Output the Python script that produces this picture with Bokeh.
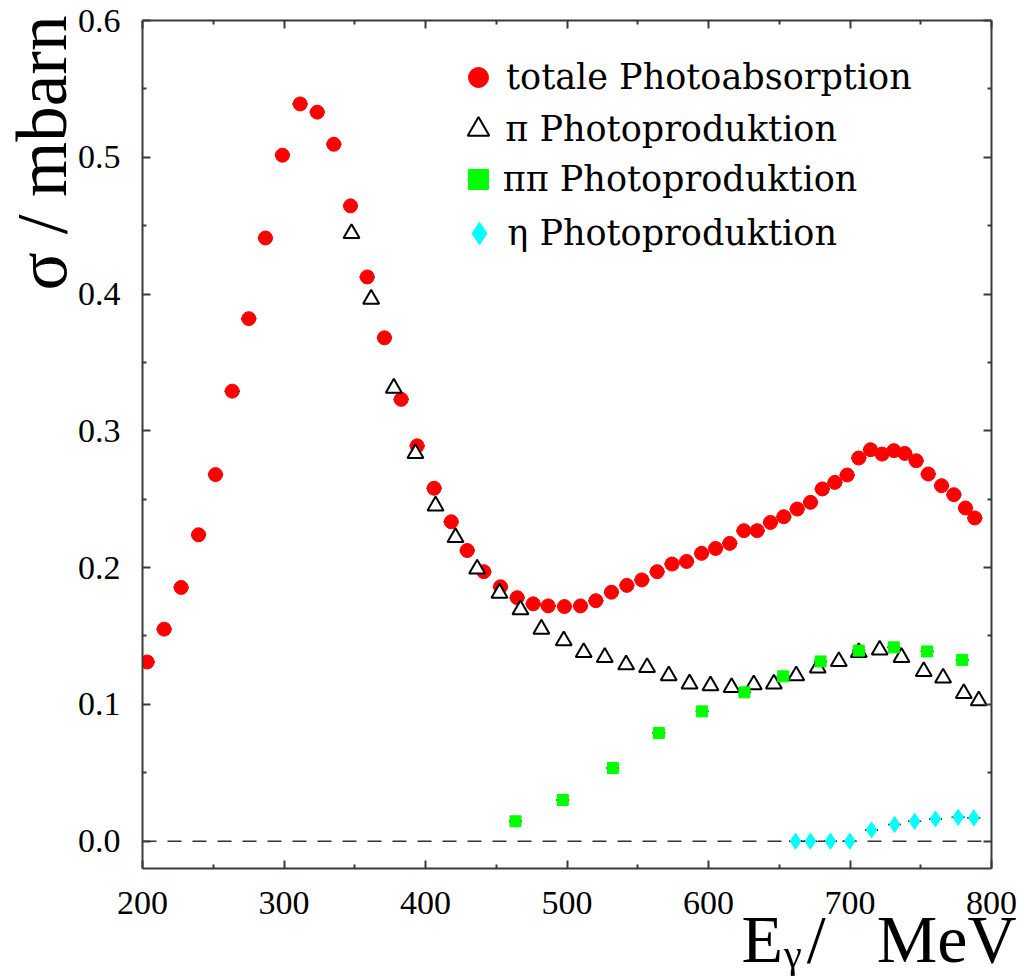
from bokeh.plotting import figure
from bokeh.models import (Range1d, LinearAxis, FixedTicker, PrintfTickFormatter,
                          CustomJSTickFormatter, Span, Title, Legend, LegendItem)
from bokeh.embed import file_html
from bokeh.resources import INLINE

# ---------------- data ----------------
tot_E = [203.3, 215.3, 227.3, 239.6, 251.6, 263.4, 275.1, 286.9, 298.9, 311.4,
         323.5, 335.2, 347.0, 358.8, 371.0, 382.8, 394.1, 406.1, 418.2, 429.5,
         441.2, 453.0, 464.8, 476.1, 486.7, 498.2, 509.5, 520.4, 531.4, 542.3,
         552.9, 563.7, 574.2, 584.5, 595.1, 605.0, 615.0, 625.0, 634.4, 643.8,
         653.2, 662.7, 672.1, 680.4, 689.3, 698.0, 706.2, 714.5, 722.7, 731.0,
         738.7, 746.8, 755.3, 764.7, 773.4, 781.6, 788.2]
tot_sig = [0.131, 0.155, 0.1855, 0.224, 0.268, 0.329, 0.382, 0.441, 0.5015, 0.539,
           0.533, 0.5095, 0.4645, 0.4125, 0.368, 0.323, 0.289, 0.258, 0.2335, 0.2125,
           0.197, 0.186, 0.178, 0.1735, 0.172, 0.1715, 0.172, 0.1758, 0.182, 0.187,
           0.191, 0.197, 0.2026, 0.2045, 0.2104, 0.214, 0.2177, 0.227, 0.227, 0.233,
           0.2372, 0.2428, 0.2477, 0.2575, 0.2623, 0.2677, 0.2801, 0.2862, 0.283, 0.2855,
           0.2835, 0.2781, 0.2684, 0.2599, 0.2533, 0.2436, 0.2363]

pi_E = [347.7, 361.6, 377.6, 392.9, 407.1, 421.2, 436.5, 452.3, 467.1, 481.9,
        497.7, 511.8, 526.7, 541.8, 556.6, 571.9, 586.6, 601.4, 616.3, 632.0,
        646.2, 662.0, 677.2, 692.1, 706.2, 721.0, 736.4, 752.1, 765.8, 780.4, 791.0]
pi_sig = [0.4443, 0.3963, 0.3313, 0.2835, 0.2452, 0.2221, 0.199, 0.1814, 0.1692, 0.1551,
          0.1466, 0.138, 0.1344, 0.129, 0.127, 0.121, 0.115, 0.1137, 0.1124, 0.1144,
          0.1149, 0.121, 0.1266, 0.1314, 0.138, 0.1398, 0.1344, 0.1241, 0.1193, 0.108, 0.1027]

pipi_E = [463.6, 497.0, 532.4, 564.9, 595.5, 625.4, 652.8, 679.2, 706.2, 730.9, 754.5, 779.3]
pipi_sig = [0.0145, 0.0301, 0.0535, 0.0791, 0.0949, 0.1088, 0.1205, 0.1314, 0.1393,
            0.1417, 0.1387, 0.1325]

eta_E = [661.5, 672.0, 686.2, 699.9, 715.2, 731.5, 745.7, 760.4, 776.4, 787.5]
eta_sig = [0.0, 0.0, 0.0, 0.0, 0.0082, 0.0121, 0.0145, 0.0162, 0.0174, 0.017]

x_major = [200, 300, 400, 500, 600, 700, 800]
x_minor = [250, 350, 450, 550, 650, 750]
y_major = [0.0, 0.1, 0.2, 0.3, 0.4, 0.5, 0.6]
y_minor = [0.05, 0.15, 0.25, 0.35, 0.45, 0.55]

legend_labels = ["totale Photoabsorption", "\u03c0 Photoproduktion",
                 "\u03c0\u03c0 Photoproduktion", "\u03b7 Photoproduktion"]
y_title = "\u03c3 / mbarn"
x_title = "E\u1d67\u200a/\u2002 MeV"

# ---------------- layout ----------------
W, H = 1020, 976
BL, BT = 142, 20          # frame left / top (page has no margin)
FW, FH = 849, 848         # frame size
BR, BB = W - BL - FW, H - BT - FH
FL, FT = BL, BT

SERIF = "Liberation Serif"
AX = "#3a3a3a"

p = figure(width=W, height=H, output_backend="svg", toolbar_location=None,
           x_range=Range1d(200, 800), y_range=Range1d(-0.02, 0.6),
           min_border_left=BL, min_border_right=BR,
           min_border_top=BT, min_border_bottom=BB)
p.grid.visible = False
p.outline_line_color = None
p.background_fill_color = "white"
p.border_fill_color = "white"

bottom_ax = p.below[0]
left_ax = p.left[0]
top_ax = LinearAxis()
right_ax = LinearAxis()
p.add_layout(top_ax, "above")
p.add_layout(right_ax, "right")

for ax in [bottom_ax, top_ax]:
    ax.ticker = FixedTicker(ticks=x_major, minor_ticks=x_minor)
for ax in [left_ax, right_ax]:
    ax.ticker = FixedTicker(ticks=y_major, minor_ticks=y_minor)
left_ax.formatter = PrintfTickFormatter(format="%.1f")

for ax in [bottom_ax, left_ax, top_ax, right_ax]:
    ax.axis_line_color = AX
    ax.axis_line_width = 2
    ax.major_tick_line_color = AX
    ax.major_tick_line_width = 2
    ax.minor_tick_line_color = AX
    ax.minor_tick_line_width = 2
    ax.major_tick_in = 8
    ax.major_tick_out = 0
    ax.minor_tick_in = 4
    ax.minor_tick_out = 0
    ax.major_label_text_font = SERIF
    ax.major_label_text_font_size = "34px"
    ax.major_label_text_color = "black"
for ax in [top_ax, right_ax]:
    ax.formatter = CustomJSTickFormatter(code="return ''")
    ax.major_label_text_font_size = "10px"
    ax.major_label_standoff = 0
bottom_ax.major_label_standoff = 23
left_ax.major_label_standoff = 22

# zero line
p.add_layout(Span(location=0, dimension="width", line_color="#333333",
                  line_width=1.5, line_dash="14 11", level="underlay"))


# small horizontal error bars (mostly hidden behind the markers)
def hbar(E, s, d):
    p.segment(x0=[e - d for e in E], y0=s, x1=[e + d for e in E], y1=s,
              line_color="black", line_width=1.5)


hbar(tot_E, tot_sig, 5.4)
hbar(pipi_E, pipi_sig, 4.6)
hbar(eta_E, eta_sig, 4.6)

r_tot = p.scatter(tot_E, tot_sig, marker="circle", size=14,
                  fill_color="#ff0000", line_color="#ff0000")
r_pi = p.scatter(pi_E, pi_sig, marker="triangle", size=16,
                 fill_color="white", line_color="black", line_width=2)
r_pipi = p.scatter(pipi_E, pipi_sig, marker="square", size=11,
                   fill_color="#00ff00", line_color="#00ff00")
r_eta = p.scatter(eta_E, eta_sig, marker="diamond", size=16,
                  fill_color="#00ffff", line_color="#00ffff")

# legends: one per entry so each key has its own size
leg_specs = [
    (r_tot, legend_labels[0], 478.0, 77.0, 50, 3),
    (r_pi, legend_labels[1], 478.3, 128.5, 54, 0),
    (r_pipi, legend_labels[2], 477.7, 179.0, 50, 0),
    (r_eta, legend_labels[3], 479.3, 232.5, 56, 0),
]
for rend, lab, cx, cy, g, so in leg_specs:
    left = cx - g / 2 - FL
    bottom = (FT + FH) - (cy + g / 2)
    leg = Legend(items=[LegendItem(label=lab, renderers=[rend])],
                 location=(left, bottom), glyph_width=g, glyph_height=g,
                 label_standoff=so, padding=0, margin=0, spacing=0,
                 border_line_color=None, background_fill_alpha=0,
                 label_text_font="DejaVu Serif", label_text_font_size="35px",
                 label_text_color="black", label_height=10)
    p.add_layout(leg)

# axis titles
p.add_layout(Title(text=y_title, align="right", vertical_align="bottom",
                   offset=-5, standoff=-12, text_font=SERIF,
                   text_font_size="71px", text_font_style="normal",
                   text_color="black"), "left")
p.add_layout(Title(text=x_title, align="right", vertical_align="middle",
                   offset=-25, standoff=-33, text_font=SERIF,
                   text_font_size="68px", text_font_style="normal",
                   text_color="black"), "below")

open("out.html", "w").write(file_html(p, INLINE))
